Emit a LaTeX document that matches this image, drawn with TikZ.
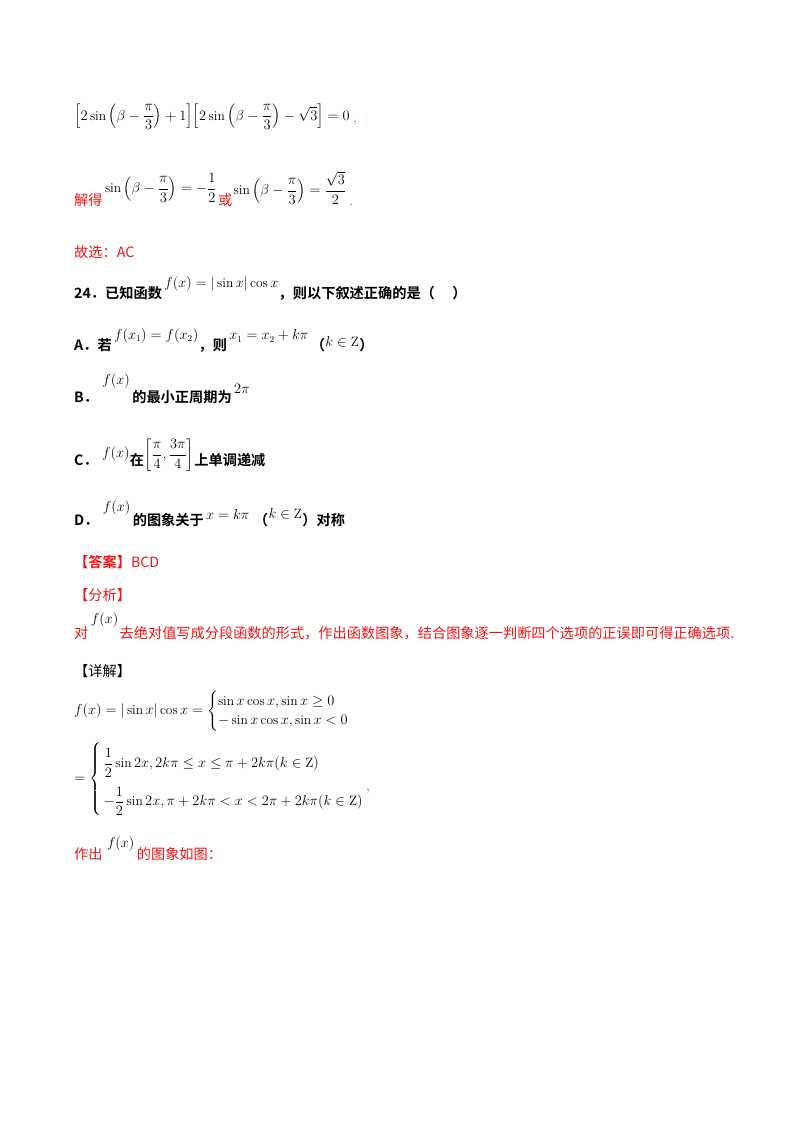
\documentclass[tikz,border=0pt]{standalone}
\usepackage{amsmath,amssymb}
\usepackage{fontspec}
\newfontfamily\cjk{Noto Sans CJK SC}
\newfontfamily\cjkb{Noto Sans CJK SC Bold}
\begin{document}
\begin{tikzpicture}[x=1pt,y=-1pt,
  t/.style={anchor=base west,inner sep=0pt,font=\fontsize{14.2}{16}\selectfont},
  m/.style={anchor=west,inner sep=0pt,font=\fontsize{13.5}{16}\selectfont},
  r/.style={t,text={rgb,255:red,240;green,20;blue,20}}]
\useasboundingbox (0,0) rectangle (800,1132);
\node[m] (e1) at (74,117) {$\displaystyle\left[2\sin\left(\beta-\frac{\pi}{3}\right)+1\right]\!\left[2\sin\left(\beta-\frac{\pi}{3}\right)-\sqrt{3}\right]=0$};
\node[r] (c1) at ([xshift=3pt]e1.east |- 0,122) {,};
\node[r] (j1) at (74,205) {\cjk 解得};
\node[m] (e2) at ([xshift=2pt]j1.east |- 0,188) {$\displaystyle\sin\left(\beta-\frac{\pi}{3}\right)=-\frac{1}{2}$};
\node[r] (j2) at ([xshift=1pt]e2.east |- 0,205) {\cjk 或};
\node[m] (e3) at ([xshift=1pt]j2.east |- 0,188) {$\displaystyle\sin\left(\beta-\frac{\pi}{3}\right)=\frac{\sqrt3}{2}$};
\node[r] (j3) at ([xshift=3pt]e3.east |- 0,205) {.};
\node[r] (g) at (74,257) {\cjk 故选：AC};
\node[t] (q24) at (74,298) {\cjkb 24．已知函数};
\node[m] (q24m) at ([xshift=2pt]q24.east |- 0,284) {$f(x)=|\sin x|\cos x$};
\node[t] (q24b) at (q24m.east |- 0,298) {\cjkb ，则以下叙述正确的是（\quad\ ）};
\node[t] (qa) at (74,350) {\cjkb A．若};
\node[m] (qam) at ([xshift=2pt]qa.east |- 0,336) {$f(x_1)=f(x_2)$};
\node[t] (qab) at (qam.east |- 0,350) {\cjkb ，则};
\node[m] (qam2) at ([xshift=2pt]qab.east |- 0,336) {$x_1=x_2+k\pi$};
\node[t] (qac) at ([xshift=2pt]qam2.east |- 0,350) {\cjkb （};
\node[m] (qam3) at (qac.east |- 0,342) {$k\in\mathrm{Z}$};
\node[t] (qad) at (qam3.east |- 0,350) {\cjkb ）};
\node[t] (qb) at (74,402) {\cjkb B．};
\node[m] (qbm) at ([xshift=4pt]qb.east |- 0,381) {$f(x)$};
\node[t] (qbb) at ([xshift=2pt]qbm.east |- 0,402) {\cjkb 的最小正周期为};
\node[m] (qbm2) at ([xshift=2pt]qbb.east |- 0,389) {$2\pi$};
\node[t] (qc) at (74,465) {\cjkb C．};
\node[m] (qcm) at ([xshift=4pt]qc.east |- 0,454) {$f(x)$};
\node[t] (qcx) at (qcm.east |- 0,465) {\cjkb 在};
\node[m] (qcm2) at (qcx.east |- 0,455) {$\displaystyle\left[\frac{\pi}{4},\frac{3\pi}{4}\right]$};
\node[t] (qcb) at (qcm2.east |- 0,465) {\cjkb 上单调递减};
\node[t] (qd) at (74,525) {\cjkb D．};
\node[m] (qdm) at ([xshift=4pt]qd.east |- 0,508) {$f(x)$};
\node[t] (qdb) at ([xshift=2pt]qdm.east |- 0,525) {\cjkb 的图象关于};
\node[m] (qdm2) at ([xshift=2pt]qdb.east |- 0,514) {$x=k\pi$};
\node[t] (qdc) at ([xshift=4pt]qdm2.east |- 0,525) {\cjkb （};
\node[m] (qdm3) at (qdc.east |- 0,514) {$k\in\mathrm{Z}$};
\node[t] (qdd) at (qdm3.east |- 0,525) {\cjkb ）对称};
\node[r] (ans) at (74,567) {\cjkb 【答案】\cjk BCD};
\node[r] (an) at (74,600) {\cjk 【分析】};
\node[r] (an1) at (74,638) {\cjk 对};
\node[m] (an1m) at ([xshift=2pt]an1.east |- 0,620) {$f(x)$};
\node[r] (an2) at ([xshift=1pt]an1m.east |- 0,638) {\cjk 去绝对值写成分段函数的形式，作出函数图象，结合图象逐一判断四个选项的正误即可得正确选项.};
\node[t] (xj) at (74,676) {\cjk 【详解】};
\node[m] (d1) at (74,711) {$f(x)=|\sin x|\cos x=\begin{cases}\sin x\cos x,\sin x\ge0\\-\sin x\cos x,\sin x<0\end{cases}$};
\node[m] (d2) at (74,779) {$=\left\{\renewcommand{\arraystretch}{2.4}\begin{array}{@{\,}l@{}}\dfrac12\sin2x,2k\pi\le x\le\pi+2k\pi(k\in\mathrm{Z})\\-\dfrac12\sin2x,\pi+2k\pi<x<2\pi+2k\pi(k\in\mathrm{Z})\end{array}\right.$};
\node[r] (d3) at ([xshift=2pt]d2.east |- 0,790) {,};
\node[r] (zc) at (74,859) {\cjk 作出};
\node[m] (zcm) at ([xshift=4pt]zc.east |- 0,844) {$f(x)$};
\node[r] (zc2) at ([xshift=2pt]zcm.east |- 0,859) {\cjk 的图象如图：};
\end{tikzpicture}
\end{document}
